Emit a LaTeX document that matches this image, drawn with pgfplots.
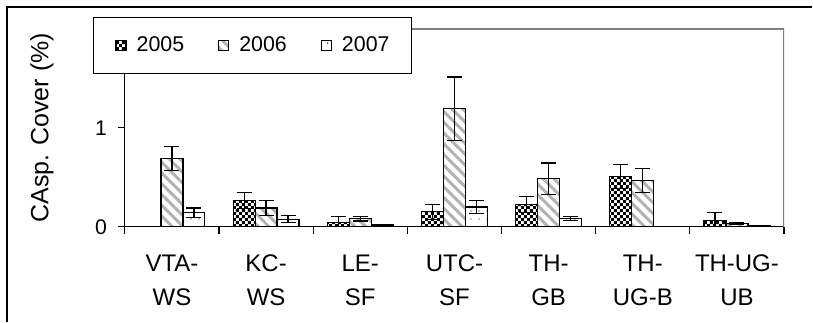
\documentclass[border=0pt]{standalone}
\usepackage{fontspec}
\setmainfont{Liberation Sans}
\usepackage{pgfplots}
\usepackage{pgfplotstable}
\pgfplotsset{compat=1.18}
\usetikzlibrary{patterns,patterns.meta}

\pgfdeclarepatternformonly{mychecker}{\pgfpointorigin}{\pgfqpoint{3pt}{3pt}}{\pgfqpoint{3pt}{3pt}}{%
  \pgfpathrectangle{\pgfpointorigin}{\pgfqpoint{1.5pt}{1.5pt}}%
  \pgfpathrectangle{\pgfqpoint{1.5pt}{1.5pt}}{\pgfqpoint{1.5pt}{1.5pt}}%
  \pgfusepath{fill}}

\pgfplotstableread{
x y e
1 0.265 0.08
2 0.045 0.06
3 0.15 0.075
4 0.225 0.08
5 0.51 0.12
6 0.062 0.08
}\tA
\pgfplotstableread{
x y e
0 0.69 0.12
1 0.19 0.075
2 0.082 0.025
3 1.195 0.32
4 0.485 0.16
5 0.47 0.12
6 0.03 0.01
}\tB
\pgfplotstableread{
x y e
0 0.14 0.05
1 0.075 0.035
2 0.018 0
3 0.20 0.065
4 0.084 0.02
5 0.005 0
6 0.015 0
}\tC

\begin{document}
\begin{tikzpicture}
\begin{axis}[
  scale only axis,
  width=330pt, height=99pt,
  xmin=-0.5, xmax=6.5, ymin=0, ymax=2,
  axis x line*=bottom, axis y line*=left,
  axis line style={black, line width=0.6pt},
  ybar=0pt, bar width=11pt,
  xtick={-0.5,0.5,...,6.5},
  x tick label as interval,
  xticklabels={{VTA-\\WS},{KC-\\WS},{LE-\\SF},{UTC-\\SF},{TH-\\GB},{TH-\\UG-B},{TH-UG-\\UB}},
  ytick={0,1,2},
  tick align=outside,
  major tick length=3.5pt,
  tick style={black, line width=0.6pt},
  /pgf/number format/assume math mode=true,
  xticklabel style={align=center, font=\fontsize{12}{17}\selectfont, yshift=-7pt},
  yticklabel style={font=\fontsize{10.6}{13}\selectfont, xshift=-2pt},
  ylabel={CAsp. Cover (\%)},
  ylabel style={font=\fontsize{12.5}{15}\selectfont, at={(axis description cs:-0.1258,0.5)}, anchor=center},
  legend columns=3,
  legend image code/.code={\draw[#1] (0pt,-2.5pt) rectangle (5pt,2.5pt);},
  legend style={at={(axis description cs:-0.0485,1.0606)}, anchor=north west,
    draw=black, fill=white, line width=0.6pt,
    font=\fontsize{10.7}{13}\selectfont,
    inner xsep=11pt, inner ysep=7.5pt,
    nodes={inner xsep=0pt},
    column sep=5pt,
    /tikz/every even column/.append style={column sep=17pt}},
  error bars/y dir=both,
  error bars/y explicit,
  error bars/error bar style={black, line width=0.6pt},
  error bars/error mark options={rotate=90, mark size=3.75pt, black, line width=0.6pt},
]
\addplot[draw=black, line width=0.6pt, pattern=mychecker, pattern color=black]
  table[x=x, y=y, y error=e]{\tA};
\addplot[draw=black, line width=0.6pt, pattern={Lines[angle=-45,distance=3.8pt,line width=1.5pt]}, pattern color=black!30]
  table[x=x, y=y, y error=e]{\tB};
\addplot[draw=black, line width=0.6pt, pattern={Dots[distance=4pt,radius=0.35pt]}, pattern color=black]
  table[x=x, y=y, y error=e]{\tC};
\legend{2005,2006,2007}
\draw[black!50, line width=0.6pt] (rel axis cs:0,1) -- (rel axis cs:1,1) -- (rel axis cs:1,0);
\end{axis}
\draw[black, line width=1pt] (-58.75pt,-47.5pt) -- (-58.75pt,110pt) -- (344pt,110pt);
\useasboundingbox (-62.5pt,-47.5pt) rectangle (344pt,113.5pt);
\end{tikzpicture}
\end{document}
